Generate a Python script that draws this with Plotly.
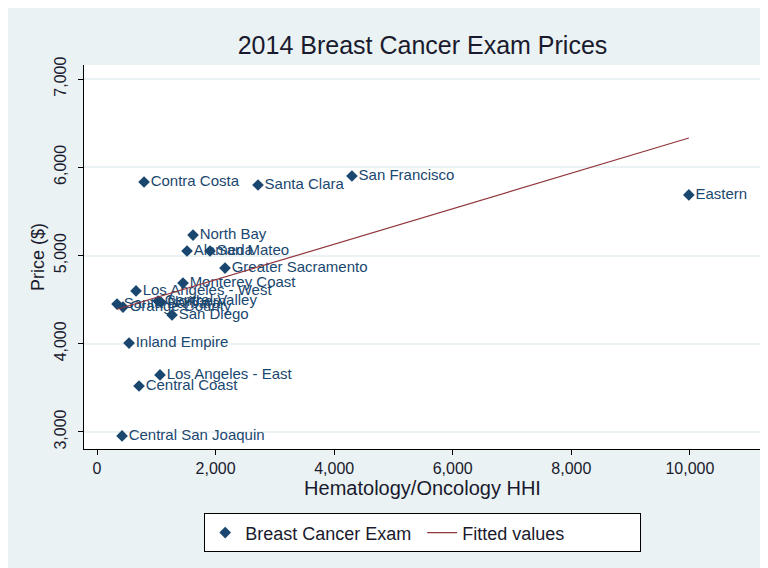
import numpy as np
import plotly.graph_objects as go

# region level data
regions = ["Contra Costa", "Santa Clara", "San Francisco", "Eastern", "North Bay",
           "Alameda", "San Mateo", "Greater Sacramento", "Monterey Coast",
           "Los Angeles - West", "Santa Barbara", "Orange County", "Central Valley",
           "Northern", "San Diego", "Inland Empire", "Los Angeles - East",
           "Central Coast", "Central San Joaquin"]
hhi = [793, 2715, 4300, 9983, 1619, 1518, 1906, 2159, 1450,
       658, 337, 438, 1029, 1080, 1265, 540, 1062, 708, 422]
price = [5833, 5799, 5901, 5686, 5232, 5051, 5051, 4858, 4688,
         4598, 4450, 4416, 4484, 4470, 4326, 4008, 3646, 3521, 2955]

BG = "#eaf2f3"
NAVY = "#1a476f"
MAROON = "#90353b"
TXT = "#1a1a2e"

# linear fit, like Stata's lfit
slope, icpt = np.polyfit(hhi, price, 1)
fit_x = np.array([min(hhi), max(hhi)])
fit_y = icpt + slope * fit_x

fig = go.Figure()
fig.add_trace(go.Scatter(
    x=hhi, y=price, mode="markers+text", text=regions,
    textposition="middle right",
    textfont=dict(family="Liberation Sans, Arial", size=15, color=NAVY),
    marker=dict(symbol="diamond", size=9, color=NAVY),
    name="Breast Cancer Exam"))
fig.add_trace(go.Scatter(
    x=fit_x, y=fit_y, mode="lines",
    line=dict(color=MAROON, width=1.2),
    name="Fitted values"))

fig.update_layout(
    width=768, height=568,
    margin=dict(l=76, r=15, t=57, b=127),
    paper_bgcolor=BG, plot_bgcolor="white",
    font=dict(family="Liberation Sans, Arial", color=TXT),
    title=dict(text="2014 Breast Cancer Exam Prices",
               font=dict(family="Liberation Sans, Arial", size=25, color=TXT),
               x=0.5, xref="paper", xanchor="center",
               y=1 - 37 / 568, yref="container", yanchor="middle"),
    xaxis=dict(range=[-220, 11200], tickvals=[0, 2000, 4000, 6000, 8000, 10000],
               tickformat=",d", showgrid=False, zeroline=False, automargin=False,
               showline=True, linecolor="black", linewidth=1.2,
               ticks="outside", ticklen=5, tickcolor="black",
               tickfont=dict(size=16, color=TXT),
               title=dict(text="Hematology/Oncology HHI", font=dict(size=20, color=TXT),
                          standoff=2)),
    yaxis=dict(range=[2807, 7159], tickvals=[3000, 4000, 5000, 6000, 7000],
               tickformat=",d", showgrid=True, gridcolor=BG, gridwidth=1.5,
               zeroline=False, showline=True, linecolor="black", linewidth=1.2,
               automargin=False, ticklabelstandoff=6,
               ticks="outside", ticklen=5, tickcolor="black", tickangle=-90,
               tickfont=dict(size=16, color=TXT),
               title=dict(text="Price ($)", font=dict(size=18, color=TXT),
                          standoff=2)),
    showlegend=True,
    legend=dict(orientation="h", x=0.5, xanchor="center", y=-0.167, yanchor="top",
                bgcolor="white", bordercolor="black", borderwidth=1.2,
                font=dict(size=18, color=TXT), entrywidth=172),
)

fig.write_html("out.html")
